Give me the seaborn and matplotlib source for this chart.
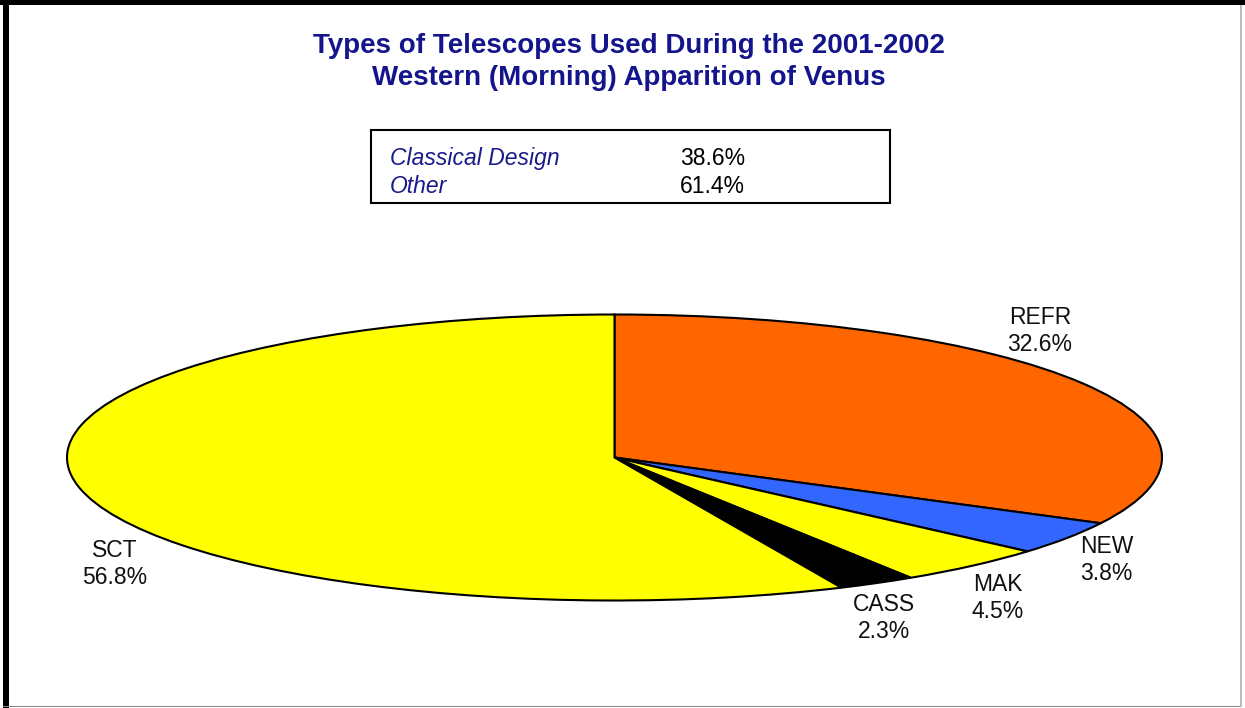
import matplotlib
matplotlib.use("Agg")
import matplotlib.pyplot as plt
from matplotlib.patches import Rectangle
import seaborn as sns

# ---- data ----
categories = ["REFR", "NEW", "MAK", "CASS", "SCT"]
shares = [32.6, 3.8, 4.5, 2.3, 56.8]
slice_colors = ["#FF6600", "#3366FF", "#FFFF00", "#000000", "#FFFF00"]
summary_labels = ["Classical Design", "Other"]
summary_values = [38.6, 61.4]
title_lines = ["Types of Telescopes Used During the 2001-2002",
               "Western (Morning) Apparition of Venus"]

sns.set_theme(style="white")
plt.rcParams["font.family"] = ["Liberation Sans", "DejaVu Sans"]

W, H = 1245, 708
fig = plt.figure(figsize=(W / 100, H / 100), dpi=100)
fig.patch.set_facecolor("white")

def fx(px):
    return px / W

def fy(py):
    return 1 - py / H

# frame
fig.patches.append(Rectangle((fx(0), fy(5)), fx(1245), 5 / H, transform=fig.transFigure,
                             facecolor="black", edgecolor="none"))
fig.patches.append(Rectangle((fx(3), fy(708)), 6 / W, 1, transform=fig.transFigure,
                             facecolor="black", edgecolor="none"))
fig.patches.append(Rectangle((fx(1240), fy(707)), 1.5 / W, 702 / H, transform=fig.transFigure,
                             facecolor="#bbbbbb", edgecolor="none"))
fig.patches.append(Rectangle((fx(3), fy(707)), 1237 / W, 1.5 / H, transform=fig.transFigure,
                             facecolor="#888888", edgecolor="none"))

# title
navy = "#14148C"
fig.text(fx(629), fy(46), title_lines[0], ha="center", va="center",
         fontsize=20, fontweight="bold", color=navy)
fig.text(fx(629), fy(78), title_lines[1], ha="center", va="center",
         fontsize=20, fontweight="bold", color=navy)

# summary box
fig.patches.append(Rectangle((fx(371), fy(203)), (890 - 371) / W, (203 - 130) / H,
                             transform=fig.transFigure, facecolor="white",
                             edgecolor="black", linewidth=1.5))
for i, (lab, val) in enumerate(zip(summary_labels, summary_values)):
    yb = 165 + i * 28
    fig.text(fx(390), fy(yb), lab, ha="left", va="baseline", fontsize=16.5,
             fontstyle="italic", color="#1a1a8a")
    fig.text(fx(680), fy(yb), f"{val:.1f}%", ha="left", va="baseline",
             fontsize=16.5, color="black")

# pie (squashed into an ellipse)
ax = fig.add_axes([fx(67), fy(600.5), (1162 - 67) / W, 286 / H])
ax.pie(shares, colors=slice_colors, startangle=90, counterclock=False,
       radius=1, wedgeprops=dict(edgecolor="black", linewidth=1.5))
ax.set_aspect("auto")
ax.set_xlim(-1, 1)
ax.set_ylim(-1, 1)
ax.axis("off")

label_pos = {
    "REFR": (0.777, 0.885),
    "NEW": (0.899, -0.715),
    "MAK": (0.700, -0.983),
    "CASS": (0.492, -1.122),
    "SCT": (-0.913, -0.745),
}
for cat, val in zip(categories, shares):
    x, y = label_pos[cat]
    ax.text(x, y, f"{cat}\n{val:.1f}%", ha="center", va="center",
            multialignment="center", fontsize=16.5, color="#111111",
            clip_on=False)

fig.savefig("out.png", dpi=100, facecolor="white")
